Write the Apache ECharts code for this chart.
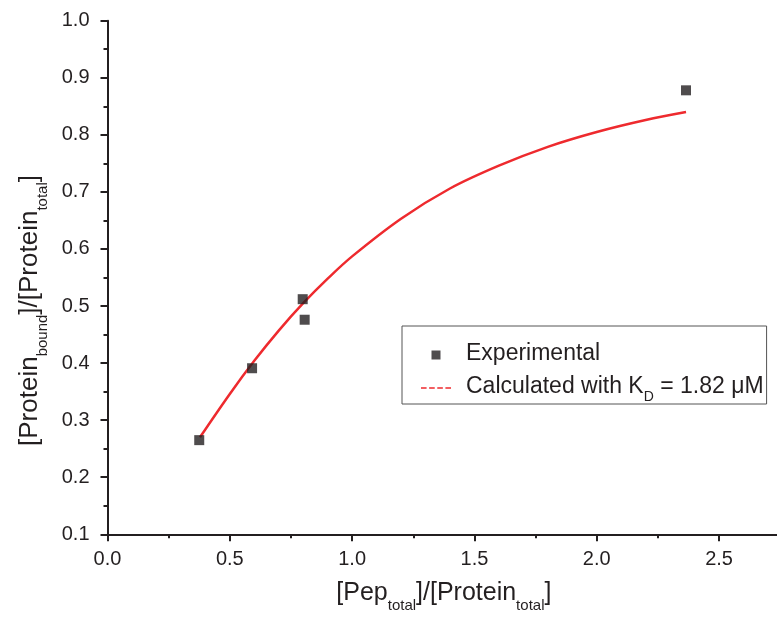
<!DOCTYPE html>
<html>
<head>
<meta charset="utf-8">
<script src="https://cdn.jsdelivr.net/npm/echarts@6/dist/echarts.min.js"></script>
<style>
html,body{margin:0;padding:0;overflow:hidden;background:#fff;}
#chart{width:781px;height:621px;}
</style>
</head>
<body>
<div id="chart"></div>
<script>
// Experimental points
const expX = [0.375, 0.591, 0.798, 0.806, 2.365];
const expY = [0.265, 0.391, 0.512, 0.476, 0.878];
// Calculated curve
const curveX = [0.378, 0.5, 0.6, 0.7, 0.8, 0.9, 1.0, 1.2, 1.4, 1.6, 1.8, 2.0, 2.2, 2.365];
const curveY = [0.270, 0.346, 0.404, 0.457, 0.505, 0.548, 0.587, 0.653, 0.706, 0.746, 0.779, 0.805, 0.826, 0.840];
// Axis ticks
const xTicks = [0.0, 0.5, 1.0, 1.5, 2.0, 2.5];
const yTicks = [0.1, 0.2, 0.3, 0.4, 0.5, 0.6, 0.7, 0.8, 0.9, 1.0];

const ink = '#231f20';
const red = '#ee2a2e';
const font = '"Liberation Sans", Arial, Helvetica, sans-serif';

const expData = expX.map((x, i) => [x, expY[i]]);
const curveData = curveX.map((x, i) => [x, curveY[i]]);

const squareIcon = 'path://M0,0L10,0L10,10L0,10Z';
const dashIcon = 'path://M0,0h5.5v1.5h-5.5zM8,0h5.5v1.5h-5.5zM16,0h5.5v1.5h-5.5zM24,0h5.5v1.5h-5.5z';

const chart = echarts.init(document.getElementById('chart'), null, {renderer: 'canvas'});
chart.setOption({
  animation: false,
  backgroundColor: '#fff',
  textStyle: {fontFamily: font},
  grid: {left: 107.5, right: 0.8, top: 20.7, bottom: 86.7, containLabel: false},
  xAxis: {
    type: 'value', min: 0, max: 2.75, interval: 0.5,
    name: '{m|[Pep}{s|total}{m|]/[Protein}{s|total}{m|]}',
    nameLocation: 'middle', nameGap: 46.5,
    nameTextStyle: {
      rich: {
        m: {fontFamily: font, fontSize: 25, lineHeight: 30, color: ink, verticalAlign: 'top'},
        s: {fontFamily: font, fontSize: 15, lineHeight: 15, color: ink, verticalAlign: 'top', padding: [18, 0, 0, 0]}
      }
    },
    axisLine: {show: true, onZero: false, lineStyle: {color: ink, width: 2}},
    axisTick: {show: true, inside: false, length: 7, lineStyle: {color: ink, width: 2}},
    minorTick: {show: true, splitNumber: 2, length: 4, lineStyle: {color: ink, width: 2}},
    splitLine: {show: false},
    axisLabel: {
      margin: 15, fontSize: 20, fontFamily: font, color: ink,
      showMaxLabel: false,
      formatter: v => (xTicks.indexOf(v) >= 0 ? v.toFixed(1) : '')
    }
  },
  yAxis: {
    type: 'value', min: 0.1, max: 1.0, interval: 0.1,
    name: '{m|[Protein}{s|bound}{m|]/[Protein}{s|total}{m|]}',
    nameLocation: 'middle', nameGap: 61,
    nameTextStyle: {
      padding: [0, 66, 0, 0],
      rich: {
        m: {fontFamily: font, fontSize: 26, lineHeight: 30, color: ink, verticalAlign: 'top'},
        s: {fontFamily: font, fontSize: 15, lineHeight: 15, color: ink, verticalAlign: 'top', padding: [19, 0, 0, 0]}
      }
    },
    axisLine: {show: true, onZero: false, lineStyle: {color: ink, width: 2}},
    axisTick: {show: true, inside: false, length: 7, lineStyle: {color: ink, width: 2}},
    minorTick: {show: true, splitNumber: 2, length: 4, lineStyle: {color: ink, width: 2}},
    splitLine: {show: false},
    axisLabel: {
      margin: 18, fontSize: 20, fontFamily: font, color: ink,
      formatter: v => {
        const r = Math.round(v * 10) / 10;
        return yTicks.indexOf(r) >= 0 ? r.toFixed(1) : '';
      }
    }
  },
  legend: {
    orient: 'vertical',
    left: 402, top: 326,
    padding: [16, 3, 0, 19],
    itemGap: 10,
    itemWidth: 30, itemHeight: 9,
    symbolKeepAspect: true,
    borderColor: '#555', borderWidth: 1,
    selectedMode: false,
    data: [
      {name: 'Experimental', icon: squareIcon, itemStyle: {color: ink}},
      {name: 'Calculated', icon: dashIcon, itemStyle: {color: red}}
    ],
    formatter: name => name === 'Experimental'
      ? '{a|Experimental}'
      : '{a|Calculated with K}{s|D}{m| = 1.82 \u03bcM}',
    textStyle: {
      rich: {
        a: {fontFamily: font, fontSize: 23, lineHeight: 26, color: ink, verticalAlign: 'top', padding: [0, 0, 0, 10]},
        m: {fontFamily: font, fontSize: 23, lineHeight: 26, color: ink, verticalAlign: 'top'},
        s: {fontFamily: font, fontSize: 14, lineHeight: 14, color: ink, verticalAlign: 'top', padding: [15, 0, 0, 0]}
      }
    }
  },
  series: [
    {
      name: 'Calculated', type: 'line', data: curveData,
      smooth: 0.35, symbol: 'none', showSymbol: false,
      lineStyle: {color: red, width: 2.5},
      itemStyle: {color: red},
      z: 2
    },
    {
      name: 'Experimental', type: 'scatter', data: expData,
      symbol: 'rect', symbolSize: 10,
      itemStyle: {color: ink},
      z: 3
    }
  ]
});
</script>
</body>
</html>
